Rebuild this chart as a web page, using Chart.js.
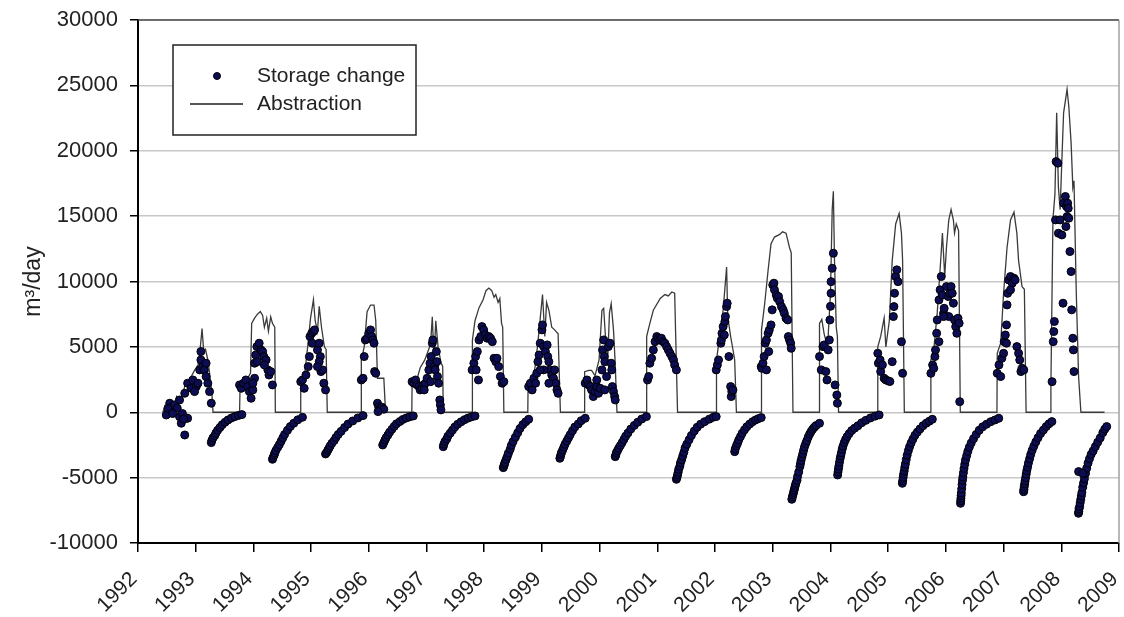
<!DOCTYPE html>
<html>
<head>
<meta charset="utf-8">
<script src="https://cdn.jsdelivr.net/npm/chart.js@4.4.0/dist/chart.umd.min.js"></script>
<style>
  html, body { margin: 0; padding: 0; background: #fff; }
  #wrap { width: 1124px; height: 617px; }
</style>
</head>
<body>
<div id="wrap"><canvas id="chart" width="1124" height="617"></canvas></div>
<script>
// year ticks on x, value ticks on y
var yearTicks = [1992, 1993, 1994, 1995, 1996, 1997, 1998, 1999, 2000, 2001, 2002, 2003, 2004, 2005, 2006, 2007, 2008, 2009];
var valueTicks = [-10000, -5000, 0, 5000, 10000, 15000, 20000, 25000, 30000];

// abstraction, m3/day  [decimal year, value]
var abstraction = [
  [1992.43,0],[1992.47,500],[1992.52,200],[1992.57,900],[1992.62,400],[1992.67,1200],[1992.73,800],[1992.78,1500],
  [1992.83,2300],[1992.88,2000],[1992.93,2800],[1992.98,3200],[1993.04,3600],[1993.07,4500],[1993.11,6400],[1993.14,4600],
  [1993.17,4800],[1993.21,4000],[1993.24,3000],[1993.28,1500],[1993.30,0],
  [1993.76,0],[1993.77,2200],[1993.83,2300],[1993.90,2600],[1993.95,3000],[1993.97,6800],[1994.02,7200],[1994.07,7500],
  [1994.12,7700],[1994.16,7400],[1994.19,6500],[1994.23,7200],[1994.26,6200],[1994.30,7300],[1994.33,6800],[1994.37,6500],[1994.38,0],
  [1994.815,0],[1994.82,2400],[1994.88,2600],[1994.94,5000],[1994.99,7200],[1995.04,8600],[1995.07,7000],[1995.11,6200],
  [1995.14,8100],[1995.18,6500],[1995.23,5000],[1995.26,4800],[1995.28,0],
  [1995.865,0],[1995.87,4000],[1995.92,5000],[1995.97,7700],[1996.03,8200],[1996.09,8200],[1996.12,7000],[1996.15,2600],
  [1996.26,2600],[1996.29,0],
  [1996.745,0],[1996.75,2200],[1996.84,2600],[1996.89,3400],[1996.97,4000],[1997.07,5200],[1997.10,7300],[1997.13,4000],
  [1997.16,7000],[1997.20,5000],[1997.25,3800],[1997.28,3500],[1997.29,0],
  [1997.79,0],[1997.795,5500],[1997.84,7000],[1997.91,8000],[1997.98,8600],[1998.03,9300],[1998.08,9500],[1998.13,9300],
  [1998.17,8800],[1998.20,9000],[1998.24,8400],[1998.27,8700],[1998.30,6800],[1998.32,6500],[1998.34,0],
  [1998.755,0],[1998.76,2200],[1998.83,2200],[1998.89,3700],[1998.94,5800],[1999.01,9000],[1999.05,5800],[1999.08,8400],
  [1999.12,7800],[1999.17,6500],[1999.22,6300],[1999.28,6000],[1999.32,0],
  [1999.735,0],[1999.74,3100],[1999.81,3200],[1999.86,3200],[1999.92,2800],[1999.99,4000],[2000.04,7800],[2000.07,7950],
  [2000.10,5800],[2000.14,4000],[2000.17,7600],[2000.20,8300],[2000.24,6300],[2000.27,3700],[2000.30,0],
  [2000.81,0],[2000.815,5800],[2000.87,6800],[2000.93,7800],[2001.05,8700],[2001.13,9000],[2001.19,8900],[2001.25,9200],
  [2001.30,9100],[2001.35,0],
  [2002.02,0],[2002.025,4000],[2002.08,5800],[2002.14,7800],[2002.20,11100],[2002.22,7300],[2002.27,5800],[2002.31,4800],
  [2002.34,4000],[2002.37,0],
  [2002.80,0],[2002.805,6300],[2002.86,8300],[2002.92,10900],[2002.97,12900],[2003.03,13400],[2003.12,13600],[2003.17,13800],
  [2003.23,13700],[2003.29,12600],[2003.32,12200],[2003.35,0],
  [2003.805,0],[2003.81,6800],[2003.85,7100],[2003.89,6000],[2003.95,5000],[2004.00,9100],[2004.03,15500],[2004.05,16900],
  [2004.07,11600],[2004.10,6500],[2004.12,5800],[2004.14,0],
  [2004.815,0],[2004.82,5000],[2004.87,5800],[2004.93,7200],[2004.96,5000],[2005.02,7000],[2005.07,11600],[2005.13,14400],
  [2005.19,15200],[2005.23,13700],[2005.25,11600],[2005.28,0],
  [2005.735,0],[2005.74,4000],[2005.79,4800],[2005.85,7600],[2005.91,11600],[2005.94,13700],[2005.98,10400],[2006.01,12600],
  [2006.05,14700],[2006.09,15500],[2006.13,14700],[2006.15,13700],[2006.18,14400],[2006.22,13900],[2006.25,0],
  [2006.885,0],[2006.89,4500],[2006.95,5300],[2007.00,9100],[2007.06,12600],[2007.12,14700],[2007.18,15300],[2007.23,13700],
  [2007.26,11600],[2007.29,10600],[2007.32,9600],[2007.36,9400],[2007.39,0],
  [2007.805,0],[2007.82,2000],[2007.855,14700],[2007.89,16700],[2007.92,22900],[2007.95,17200],[2007.98,15500],[2008.01,19300],
  [2008.04,22900],[2008.10,24700],[2008.13,23400],[2008.17,20600],[2008.20,17200],[2008.22,17700],[2008.26,9100],[2008.30,2700],
  [2008.34,0],[2008.75,0]
];

// storage change during the abstraction seasons
var storageSeason = [
  [1992.49,-210],[1992.55,690],[1992.58,180],[1992.63,560],[1992.68,310],[1992.72,-340],[1992.75,-840],[1992.81,-1740],
  [1992.83,-460],[1992.86,-460],[1992.72,940],[1992.81,1450],[1992.86,2220],[1992.92,1840],[1992.95,2470],[1993.01,1960],
  [1993.07,3240],[1993.09,4000],[1993.09,4640],[1993.12,3490],[1993.15,3240],[1993.18,2730],[1993.21,2220],[1993.24,1580],
  [1993.27,690],[1993.04,2220],[1992.98,1580],[1993.18,3750],[1992.52,300],[1992.60,-100],[1992.77,-100],[1992.79,-520],
  [1993.76,2090],[1993.79,1830],[1993.83,2220],[1993.87,2470],[1993.90,1960],[1993.93,1580],[1993.96,1070],[1993.99,1710],
  [1994.02,2600],[1994.02,3750],[1994.04,4380],[1994.06,5020],[1994.10,5280],[1994.13,4770],[1994.16,4640],[1994.18,4260],
  [1994.22,4000],[1994.25,3240],[1994.27,2850],[1994.30,3110],[1994.33,2090],[1994.19,3620],[1994.07,3870],[1993.99,2220],
  [1994.82,2340],[1994.85,2470],[1994.88,1830],[1994.91,2850],[1994.95,3490],[1994.97,4260],[1994.98,5790],[1995.01,6040],
  [1995.04,6170],[1995.06,6300],[1995.02,5280],[1995.11,4770],[1995.14,5280],[1995.16,4260],[1995.14,3870],[1995.17,3110],
  [1995.20,3240],[1995.22,2220],[1995.25,1710],[1995.11,3490],
  [1995.87,2470],[1995.90,2600],[1995.92,4260],[1995.94,5530],[1995.97,5660],[1996.00,6040],[1996.03,6300],[1996.05,5790],
  [1996.07,5530],[1996.09,5280],[1996.10,3110],[1996.12,2980],[1996.15,690],[1996.17,430],[1996.20,300],[1996.23,380],
  [1996.26,230],[1996.16,50],
  [1996.75,2340],[1996.78,2220],[1996.81,2470],[1996.84,2090],[1996.87,1960],[1996.89,1710],[1996.92,1830],[1996.95,2090],
  [1996.98,2220],[1997.01,2600],[1997.04,3240],[1997.06,3750],[1997.08,4260],[1997.10,5280],[1997.11,5530],[1997.14,3490],
  [1997.15,3240],[1997.17,4640],[1997.18,3870],[1997.19,2730],[1997.21,2220],[1997.23,940],[1997.24,560],[1997.25,180],
  [1997.07,2340],[1996.96,1710],
  [1997.79,3240],[1997.82,3750],[1997.85,4260],[1997.86,3240],[1997.88,4640],[1997.90,2470],[1997.91,5530],[1997.94,5790],
  [1997.96,6550],[1997.99,6300],[1998.02,5910],[1998.05,5660],[1998.08,5790],[1998.11,5660],[1998.14,5400],[1998.17,4130],
  [1998.20,3870],[1998.22,4130],[1998.25,3490],[1998.28,2730],[1998.31,2220],[1998.34,2340],
  [1998.77,1960],[1998.80,2220],[1998.83,1710],[1998.86,2600],[1998.89,2220],[1998.91,2980],[1998.93,3870],[1998.95,4380],
  [1998.97,5280],[1999.00,6300],[1999.01,6680],[1999.03,5020],[1999.06,4640],[1999.09,5150],[1999.10,4260],[1999.12,3870],
  [1999.14,3240],[1999.17,2850],[1999.20,2600],[1999.22,3240],[1999.24,2220],[1999.26,1710],[1999.28,1450],[1999.03,3240],
  [1998.97,3240],[1999.12,2220],
  [1999.75,2220],[1999.78,2470],[1999.81,2090],[1999.84,1960],[1999.86,1710],[1999.89,1200],[1999.92,1580],[1999.95,1960],
  [1999.98,1450],[2000.01,1830],[2000.04,3240],[2000.05,4770],[2000.07,5530],[2000.08,4260],[2000.09,3870],[2000.12,2730],
  [2000.15,5020],[2000.18,5280],[2000.20,3750],[2000.21,3240],[2000.22,1960],[2000.24,1580],[2000.26,1200],[2000.27,940],
  [1999.95,2470],[2000.09,1710],
  [2000.83,2470],[2000.85,2730],[2000.87,3750],[2000.90,4130],[2000.93,4770],[2000.96,5400],[2000.99,5790],[2001.02,5660],
  [2001.04,5530],[2001.07,5660],[2001.10,5400],[2001.13,5280],[2001.16,5020],[2001.19,4770],[2001.22,4510],[2001.25,4260],
  [2001.28,4000],[2001.30,3620],[2001.33,3240],
  [2002.02,3240],[2002.04,3620],[2002.06,4000],[2002.10,5280],[2002.11,5530],[2002.12,6040],[2002.14,6550],[2002.16,5910],
  [2002.17,6930],[2002.18,7320],[2002.20,8080],[2002.21,8340],[2002.24,4260],[2002.27,1960],[2002.28,1200],[2002.29,1580],
  [2002.31,1710],
  [2002.80,3490],[2002.81,3360],[2002.83,3750],[2002.85,4260],[2002.87,5280],[2002.89,5530],[2002.92,6040],[2002.93,4640],
  [2002.94,6300],[2002.97,6680],[2002.99,7830],[2003.00,9740],[2003.02,9870],[2003.03,9360],[2003.06,8970],[2003.08,8720],
  [2003.10,8850],[2003.12,8460],[2003.15,8080],[2003.18,7830],[2003.20,7570],[2003.23,7190],[2003.26,7060],[2003.27,5790],
  [2003.29,5530],[2003.31,5280],[2003.32,4890],[2002.89,3240],
  [2003.81,4260],[2003.84,3240],[2003.87,5020],[2003.89,5150],[2003.92,3110],[2003.94,2470],[2003.96,4770],[2003.98,5530],
  [2003.99,7060],[2004.00,8100],[2004.01,9100],[2004.01,9990],[2004.03,11010],[2004.05,12160],[2004.08,2090],[2004.11,1320],
  [2004.12,690],
  [2004.82,4510],[2004.83,3750],[2004.86,4000],[2004.87,3110],[2004.90,3620],[2004.93,2600],[2004.96,2470],[2005.00,2400],
  [2005.03,2350],[2005.07,3870],[2005.09,7320],[2005.10,8080],[2005.11,9100],[2005.13,10380],[2005.15,10890],[2005.17,9990],
  [2005.23,5400],[2005.25,2980],
  [2005.74,2980],[2005.77,3620],[2005.79,3360],[2005.81,4260],[2005.82,4770],[2005.84,6040],[2005.85,7060],[2005.88,8590],
  [2005.90,9360],[2005.92,10380],[2005.94,8970],[2005.96,7570],[2005.97,7950],[2006.01,9610],[2006.04,8850],[2006.05,7320],
  [2006.07,9100],[2006.09,9610],[2006.11,9100],[2006.13,8340],[2006.15,7060],[2006.17,6550],[2006.19,6040],[2006.21,7190],
  [2006.23,6810],[2005.88,5400],[2005.96,7320],[2006.24,810],
  [2006.89,2980],[2006.92,3620],[2006.95,2730],[2006.97,4130],[2007.00,4510],[2007.01,5400],[2007.03,5910],[2007.05,6680],
  [2007.06,8210],[2007.07,9100],[2007.09,10120],[2007.12,10380],[2007.15,9870],[2007.18,10250],[2007.20,10120],[2007.23,5020],
  [2007.26,4510],[2007.28,4000],[2007.30,3110],[2007.32,3360],[2007.35,3240],[2007.05,5280],[2007.12,9360],
  [2007.84,2340],[2007.86,5400],[2007.87,6170],[2007.88,6940],[2007.90,14710],[2007.91,19170],[2007.94,19050],[2007.95,13690],
  [2007.98,14710],[2008.01,13560],[2008.03,8340],[2008.04,15990],[2008.07,16500],[2008.08,14200],[2008.09,15740],[2008.10,14970],
  [2008.11,15990],[2008.12,15600],[2008.13,14840],[2008.15,12290],[2008.17,10760],[2008.18,7830],[2008.20,5660],[2008.21,4770],
  [2008.22,3110]
];

// storage change during the recovery between seasons
var storageRecovery = [
  [1993.27,-2323],[1993.28,-2152],[1993.30,-1959],[1993.33,-1788],[1993.35,-1595],[1993.38,-1380],[1993.42,-1166],
  [1993.46,-952],[1993.51,-759],[1993.56,-588],[1993.62,-438],[1993.68,-331],[1993.74,-245],[1993.80,-181],
  [1994.33,-3598],[1994.34,-3470],[1994.36,-3277],[1994.37,-3116],[1994.39,-2923],[1994.42,-2698],[1994.45,-2473],
  [1994.48,-2216],[1994.51,-1959],[1994.54,-1702],[1994.59,-1381],[1994.64,-1092],[1994.70,-835],[1994.77,-578],[1994.85,-385],
  [1995.25,-3190],[1995.27,-3073],[1995.29,-2897],[1995.31,-2750],[1995.33,-2574],[1995.36,-2369],[1995.40,-2164],
  [1995.43,-1929],[1995.47,-1695],[1995.52,-1460],[1995.58,-1167],[1995.64,-903],[1995.72,-669],[1995.81,-434],[1995.90,-258],
  [1996.24,-2502],[1996.26,-2324],[1996.28,-2125],[1996.30,-1947],[1996.33,-1748],[1996.36,-1526],[1996.40,-1304],
  [1996.44,-1082],[1996.48,-882],[1996.54,-705],[1996.59,-549],[1996.65,-438],[1996.71,-349],[1996.77,-283],
  [1997.29,-2632],[1997.30,-2444],[1997.32,-2233],[1997.35,-2045],[1997.37,-1833],[1997.41,-1598],[1997.45,-1363],
  [1997.49,-1129],[1997.54,-917],[1997.60,-729],[1997.66,-565],[1997.72,-447],[1997.78,-353],[1997.84,-283],
  [1998.33,-4236],[1998.34,-4125],[1998.35,-3977],[1998.36,-3829],[1998.38,-3607],[1998.40,-3385],[1998.42,-3127],
  [1998.45,-2831],[1998.47,-2535],[1998.50,-2239],[1998.54,-1906],[1998.58,-1573],[1998.62,-1241],[1998.67,-945],
  [1998.72,-723],[1998.77,-538],
  [1999.31,-3522],[1999.32,-3400],[1999.33,-3216],[1999.34,-3063],[1999.36,-2879],[1999.38,-2665],[1999.40,-2451],
  [1999.43,-2206],[1999.46,-1961],[1999.49,-1717],[1999.53,-1411],[1999.57,-1135],[1999.63,-890],[1999.68,-646],[1999.75,-462],
  [2000.27,-3394],[2000.28,-3272],[2000.29,-3088],[2000.31,-2935],[2000.33,-2751],[2000.36,-2537],[2000.39,-2323],
  [2000.42,-2078],[2000.45,-1833],[2000.49,-1589],[2000.54,-1283],[2000.60,-1007],[2000.66,-762],[2000.73,-518],[2000.81,-334],
  [2001.33,-5128],[2001.34,-4984],[2001.35,-4792],[2001.36,-4601],[2001.37,-4361],[2001.39,-4121],[2001.40,-3882],
  [2001.42,-3642],[2001.44,-3354],[2001.46,-3067],[2001.48,-2731],[2001.51,-2443],[2001.55,-2108],[2001.59,-1772],
  [2001.64,-1437],[2001.69,-1149],[2001.75,-909],[2001.82,-718],[2001.90,-526],[2001.97,-382],[2002.02,-334],
  [2002.34,-3012],[2002.35,-2804],[2002.37,-2570],[2002.39,-2362],[2002.41,-2128],[2002.44,-1868],[2002.47,-1607],
  [2002.51,-1347],[2002.55,-1113],[2002.60,-905],[2002.65,-723],[2002.70,-593],[2002.75,-489],[2002.80,-411],
  [2003.33,-6658],[2003.34,-6484],[2003.35,-6309],[2003.36,-6135],[2003.37,-5960],[2003.38,-5786],[2003.39,-5612],
  [2003.40,-5437],[2003.42,-5205],[2003.43,-4914],[2003.45,-4565],[2003.47,-4158],[2003.48,-3930],[2003.49,-3693],
  [2003.505,-3430],[2003.52,-3170],[2003.535,-2900],[2003.55,-2646],[2003.57,-2400],[2003.59,-2181],[2003.615,-1900],
  [2003.64,-1658],[2003.665,-1470],[2003.69,-1309],[2003.72,-1150],[2003.75,-1019],[2003.81,-844],
  [2004.124,-4797],[2004.131,-4568],[2004.138,-4338],[2004.146,-4109],[2004.156,-3833],[2004.167,-3558],[2004.178,-3328],
  [2004.189,-3099],[2004.203,-2823],[2004.217,-2594],[2004.239,-2318],[2004.261,-2089],[2004.289,-1859],[2004.325,-1630],
  [2004.368,-1400],[2004.419,-1217],[2004.476,-1033],[2004.541,-804],[2004.613,-620],[2004.692,-437],[2004.771,-299],[2004.843,-207],
  [2005.246,-5434],[2005.251,-5238],[2005.259,-4993],[2005.267,-4749],[2005.277,-4504],[2005.288,-4210],[2005.298,-3965],
  [2005.313,-3622],[2005.329,-3280],[2005.350,-2937],[2005.371,-2643],[2005.397,-2350],[2005.428,-2056],[2005.464,-1762],
  [2005.506,-1517],[2005.552,-1272],[2005.604,-1028],[2005.661,-832],[2005.713,-685],[2005.765,-538],
  [2006.254,-6964],[2006.257,-6769],[2006.261,-6574],[2006.264,-6379],[2006.267,-6184],[2006.274,-5859],[2006.280,-5534],
  [2006.287,-5208],[2006.294,-4948],[2006.304,-4623],[2006.314,-4298],[2006.327,-3973],[2006.340,-3648],[2006.360,-3323],
  [2006.380,-2998],[2006.406,-2673],[2006.439,-2348],[2006.479,-2023],[2006.525,-1697],[2006.578,-1372],[2006.638,-1112],
  [2006.704,-917],[2006.777,-722],[2006.850,-592],[2006.916,-462],
  [2007.348,-6072],[2007.353,-5911],[2007.358,-5697],[2007.365,-5483],[2007.372,-5269],[2007.382,-5001],[2007.392,-4733],
  [2007.402,-4466],[2007.416,-4198],[2007.431,-3876],[2007.451,-3555],[2007.470,-3234],[2007.495,-2913],[2007.524,-2591],
  [2007.558,-2270],[2007.597,-1949],[2007.641,-1627],[2007.690,-1360],[2007.739,-1092],[2007.788,-878],[2007.837,-717],
  [2008.298,-7729],[2008.303,-7596],[2008.308,-7398],[2008.318,-7199],[2008.327,-6933],[2008.337,-6668],[2008.347,-6403],
  [2008.357,-6138],[2008.371,-5740],[2008.386,-5408],[2008.401,-5077],[2008.420,-4679],[2008.440,-4281],[2008.464,-3884],
  [2008.489,-3552],[2008.518,-3221],[2008.552,-2955],[2008.591,-2624],[2008.631,-2292],[2008.675,-1961],[2008.719,-1563],
  [2008.753,-1298],[2008.787,-1099],
  [2008.30,-4540],[2008.37,-4670]
];

var FONT = '"Liberation Sans", Arial, sans-serif';

function toXY(list) {
  return list.map(function (p) { return { x: p[0], y: p[1] }; });
}

// plot frame (top / right) and the boxed legend inside the plot
var frameLegend = {
  id: 'frameLegend',
  afterDraw: function (chart) {
    var ctx = chart.ctx, a = chart.chartArea;
    ctx.save();
    ctx.lineWidth = 1.5;
    ctx.strokeStyle = '#4a4a4a';
    ctx.beginPath(); ctx.moveTo(a.left, a.top); ctx.lineTo(a.right, a.top); ctx.stroke();
    ctx.strokeStyle = '#a0a0a0';
    ctx.beginPath(); ctx.moveTo(a.right, a.top); ctx.lineTo(a.right, a.bottom); ctx.stroke();

    var bx = a.left + 35, by = a.top + 25, bw = 243, bh = 90;
    ctx.fillStyle = '#fff';
    ctx.fillRect(bx, by, bw, bh);
    ctx.strokeStyle = '#222';
    ctx.lineWidth = 1.5;
    ctx.strokeRect(bx, by, bw, bh);

    ctx.beginPath();
    ctx.arc(bx + 44, by + 31, 3.5, 0, Math.PI * 2);
    ctx.fillStyle = '#0d0d55';
    ctx.fill();
    ctx.lineWidth = 1;
    ctx.strokeStyle = '#000';
    ctx.stroke();

    ctx.beginPath();
    ctx.moveTo(bx + 17, by + 59);
    ctx.lineTo(bx + 70, by + 59);
    ctx.strokeStyle = '#555';
    ctx.lineWidth = 2;
    ctx.stroke();

    ctx.fillStyle = '#222';
    ctx.font = '21px ' + FONT;
    ctx.textBaseline = 'middle';
    ctx.textAlign = 'left';
    ctx.fillText('Storage change', bx + 84, by + 31);
    ctx.fillText('Abstraction', bx + 84, by + 59);
    ctx.restore();
  }
};

new Chart(document.getElementById('chart'), {
  type: 'scatter',
  data: {
    datasets: [{
      label: 'Storage change',
      data: toXY(storageSeason.concat(storageRecovery)),
      pointRadius: 4,
      pointBackgroundColor: '#0d0d55',
      pointBorderColor: '#000',
      pointBorderWidth: 1,
      showLine: false
    }, {
      label: 'Abstraction',
      data: toXY(abstraction),
      showLine: true,
      borderColor: '#3a3a3a',
      borderWidth: 1.3,
      pointRadius: 0,
      tension: 0
    }]
  },
  options: {
    responsive: false,
    animation: false,
    devicePixelRatio: 1,
    layout: { padding: { top: 20, right: 2, left: 0, bottom: 0 } },
    plugins: {
      legend: { display: false },
      tooltip: { enabled: false }
    },
    scales: {
      x: {
        type: 'linear',
        min: yearTicks[0],
        max: yearTicks[yearTicks.length - 1],
        afterBuildTicks: function (s) { s.ticks = yearTicks.map(function (v) { return { value: v }; }); },
        afterFit: function (s) { s.height = 74; s.paddingLeft = 0; s.paddingRight = 0; },
        grid: { drawOnChartArea: false, drawTicks: true, tickLength: 9, tickColor: '#000', lineWidth: 1.5 },
        border: { display: true, color: '#000', width: 2 },
        ticks: {
          autoSkip: false,
          maxRotation: 45,
          minRotation: 45,
          padding: 15,
          labelOffset: -4,
          color: '#222',
          font: { family: FONT, size: 21 },
          callback: function (v) { return String(v); }
        }
      },
      y: {
        min: valueTicks[0],
        max: valueTicks[valueTicks.length - 1],
        afterBuildTicks: function (s) { s.ticks = valueTicks.map(function (v) { return { value: v }; }); },
        afterFit: function (s) { s.width = 138; s.paddingTop = 0; s.paddingBottom = 0; },
        grid: { color: '#c8c8c8', lineWidth: 1.5, drawTicks: true, tickLength: 8, tickColor: '#000' },
        border: { display: true, color: '#000', width: 2 },
        ticks: {
          padding: 12,
          color: '#222',
          font: { family: FONT, size: 22 },
          callback: function (v) { return String(v); }
        },
        title: {
          display: true,
          text: 'm\u00b3/day',
          color: '#222',
          font: { family: FONT, size: 23 },
          padding: { top: 20, bottom: 0 }
        }
      }
    }
  },
  plugins: [frameLegend]
});
</script>
</body>
</html>
